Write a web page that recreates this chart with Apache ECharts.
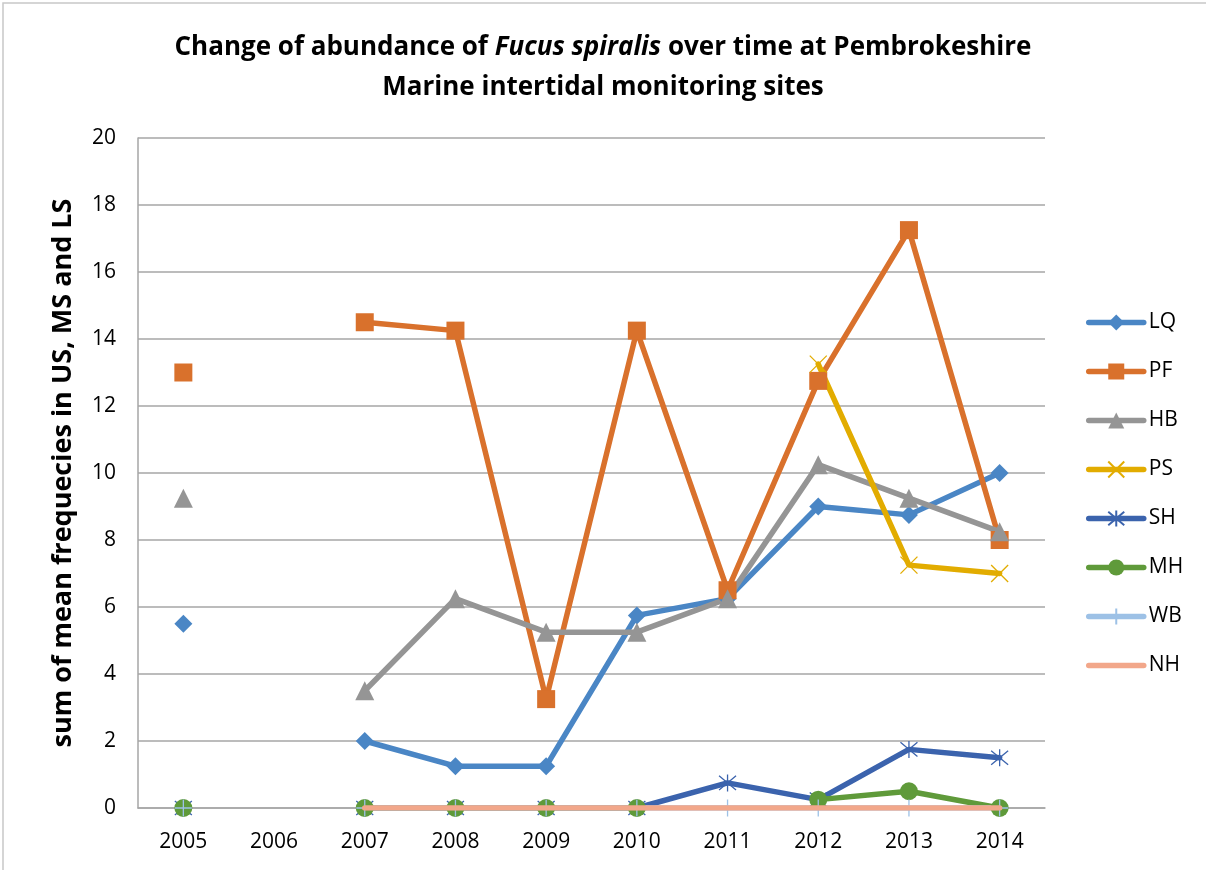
<!DOCTYPE html>
<html>
<head>
<meta charset="utf-8">
<script src="https://cdn.jsdelivr.net/npm/echarts@6/dist/echarts.min.js"></script>
<style>
  html, body { margin: 0; padding: 0; background: #fff; }
  #chart-container { width: 1206px; height: 870px; }
</style>
</head>
<body>
<div id="chart-container"></div>
<script>
// Years on the x axis (2006 has no survey data)
const years = ["2005", "2006", "2007", "2008", "2009", "2010", "2011", "2012", "2013", "2014"];

// sum of mean frequencies per site
const lq = [5.5, null, 2, 1.25, 1.25, 5.75, 6.25, 9, 8.75, 10];
const pf = [13, null, 14.5, 14.25, 3.25, 14.25, 6.5, 12.75, 17.25, 8];
const hb = [9.25, null, 3.5, 6.25, 5.25, 5.25, 6.25, 10.25, 9.25, 8.25];
const ps = [null, null, null, null, null, null, null, 13.25, 7.25, 7];
const sh = [0, null, 0, 0, 0, 0, 0.75, 0.25, 1.75, 1.5];
const mh = [0, null, 0, 0, 0, 0, null, 0.25, 0.5, 0];
const wb = [0, null, 0, 0, 0, 0, 0, 0, 0, 0];
const nh = [null, null, 0, 0, 0, 0, 0, 0, 0, 0];

const yTicks = { min: 0, max: 20, interval: 2 };

const FONT = "'Open Sans', 'Noto Sans', sans-serif";

// marker paths
const crossX = "path://M0,0L10,10M10,0L0,10";
const star = "path://M0,0L10,10M10,0L0,10M5,-1L5,11";
const plus = "path://M5,0L5,10M0,5L10,5";

const chart = echarts.init(document.getElementById("chart-container"));

const mk = (name, data, color, symbol, size, strokeSymbol) => ({
  name,
  type: "line",
  data,
  symbol,
  symbolSize: size,
  showSymbol: true,
  lineStyle: { width: 5.5, color, cap: "round" },
  itemStyle: strokeSymbol
    ? { color: "rgba(0,0,0,0)", borderColor: color, borderWidth: 1.3 }
    : { color, borderWidth: 0 },
  emphasis: { disabled: true },
  z: 2,
});

const nhSeries = mk("NH", nh, "#f2a78a", "none", 1);
nhSeries.itemStyle = { color: "rgba(0,0,0,0)", borderWidth: 0 };
nhSeries.z = 4;

const option = {
  backgroundColor: "#fff",
  animation: false,
  textStyle: { fontFamily: FONT },
  title: {
    text:
      "{b|Change of abundance of }{i|Fucus spiralis}{b| over time at Pembrokeshire}\n{b|Marine intertidal monitoring sites}",
    left: "center",
    top: 23,
    textStyle: {
      rich: {
        b: { fontFamily: FONT, fontWeight: "bold", fontSize: 26, color: "#000", lineHeight: 40 },
        i: { fontFamily: FONT, fontWeight: "bold", fontStyle: "italic", fontSize: 26, color: "#000", lineHeight: 40 },
      },
    },
  },
  legend: {
    orient: "vertical",
    left: 1081,
    top: 307,
    itemWidth: 55,
    itemHeight: 20,
    itemGap: 28,
    lineStyle: { width: 5.5, cap: "round" },
    textStyle: { fontSize: 21, lineHeight: 16, color: "#000", fontFamily: FONT },
    data: ["LQ", "PF", "HB", "PS", "SH", "MH", "WB", "NH"],
  },
  grid: { left: 138, right: 161, top: 138, bottom: 62, containLabel: false },
  xAxis: {
    type: "category",
    data: years,
    boundaryGap: true,
    axisLine: { show: true, lineStyle: { color: "#a6a6a6", width: 1.5 } },
    axisTick: { show: false },
    axisLabel: { fontSize: 21, color: "#000", margin: 24, fontFamily: FONT },
    splitLine: { show: false },
  },
  yAxis: {
    type: "value",
    min: yTicks.min,
    max: yTicks.max,
    interval: yTicks.interval,
    name: "sum of mean frequecies in US, MS and LS",
    nameLocation: "middle",
    nameRotate: 90,
    nameGap: 61,
    nameTextStyle: { fontSize: 27, fontWeight: "bold", color: "#000", fontFamily: FONT },
    axisLine: { show: true, lineStyle: { color: "#a6a6a6", width: 1.5 } },
    axisTick: { show: false },
    axisLabel: { fontSize: 21, color: "#000", margin: 22, fontFamily: FONT },
    splitLine: { show: true, lineStyle: { color: "#a6a6a6", width: 1.5 } },
  },
  graphic: [
    {
      type: "rect",
      shape: { x: 3, y: 3, width: 1220, height: 900 },
      style: { fill: "none", stroke: "#c8c8c8", lineWidth: 1.5 },
      silent: true,
    },
  ],
  series: [
    mk("LQ", lq, "#4a86c5", "diamond", 18),
    mk("PF", pf, "#d9712c", "rect", 18),
    mk("HB", hb, "#959595", "triangle", 19),
    mk("PS", ps, "#e2ac00", crossX, 17, true),
    mk("SH", sh, "#3b63ad", star, 17, true),
    mk("MH", mh, "#5f9a3a", "circle", 18),
    mk("WB", wb, "#9dc1e6", plus, 17, true),
    nhSeries,
  ],
};

chart.setOption(option);
</script>
</body>
</html>
